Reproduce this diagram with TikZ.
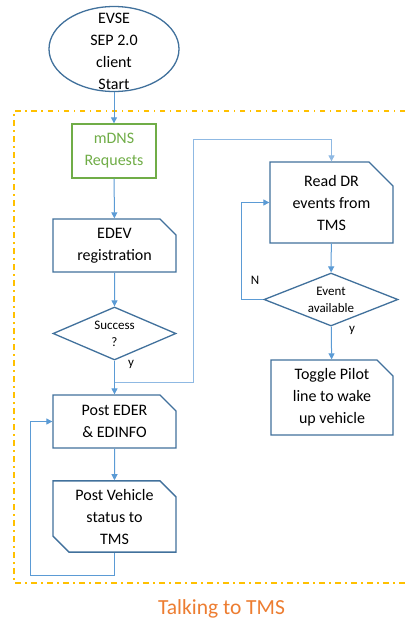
\documentclass[tikz,border=0pt]{standalone}
\usepackage{fontspec}
\setmainfont{Carlito}
\usetikzlibrary{shapes.geometric,shapes.misc,arrows.meta}
\definecolor{edge}{HTML}{41719C}
\definecolor{flow}{HTML}{5B9BD5}
\definecolor{flowlight}{HTML}{8FB9E3}
\definecolor{leaf}{HTML}{70AD47}
\definecolor{gold}{HTML}{FFC000}
\definecolor{tangerine}{HTML}{ED7D31}
\tikzset{
  body/.style={font=\fontsize{16}{22}\selectfont, align=center},
  small/.style={font=\fontsize{13}{17}\selectfont, align=center},
  snip/.style={body, chamfered rectangle, chamfered rectangle sep=8pt,
    draw=edge, line width=1.3pt, inner sep=0pt},
  decision/.style={small, diamond, draw=edge, line width=1.3pt, inner sep=0pt},
  link/.style={draw=flow, line width=1pt, -{Triangle[length=6pt,width=6pt]}},
  tag/.style={font=\fontsize{13}{15}\selectfont, inner sep=0pt}
}
\begin{document}
\begin{tikzpicture}[x=1pt,y=-1pt]
\fill[white] (0,0) rectangle (405,625);

% grouping frame around the TMS exchange (open towards the right edge)
\draw[gold, line width=1.4pt, dash pattern=on 5.5pt off 4.5pt on 1.5pt off 4.5pt]
  (405,111) -- (14,111) -- (14,583) -- (405,583);
\node[font=\fontsize{21.5}{24}\selectfont, text=tangerine] (title) at (221.5,609) {Talking to TMS};

% start terminal
\node[ellipse, draw=edge, line width=1.3pt, minimum width=130pt, minimum height=85pt, inner sep=0pt] (start) at (114,49) {};
\node[body] (starttext) at (114,51) {EVSE\\SEP 2.0\\client\\Start};

% left column
\node[rectangle, draw=leaf, line width=1.3pt, text=leaf, body, minimum width=84pt, minimum height=54pt, inner sep=0pt] (mdns) at (114,151) {mDNS\\Requests};
\node[snip, chamfered rectangle corners=north east, minimum width=123pt, minimum height=53pt] (edev) at (114.5,245.5) {EDEV\\registration};
\node[decision, minimum width=123pt, minimum height=53pt, shape aspect=2.3] (succ) at (114.5,333.5) {Success\\?};
\node[snip, chamfered rectangle corners=north east, minimum width=123pt, minimum height=53pt] (post) at (114.5,421.5) {Post EDER\\\& EDINFO};
\node[snip, chamfered rectangle corners={north east,south west}, minimum width=123pt, minimum height=67pt] (vehicle) at (114.5,516.5) {Post Vehicle\\status to\\TMS};

% right column
\node[snip, chamfered rectangle corners=north east, chamfered rectangle sep=12pt, minimum width=123pt, minimum height=81pt] (readdr) at (331.5,202.5) {Read DR\\events from\\TMS};
\node[decision, minimum width=134pt, minimum height=53pt, shape aspect=2.5] (event) at (331,299.5) {Event\\available};
\node[snip, chamfered rectangle corners=north east, minimum width=122pt, minimum height=75pt] (toggle) at (332,397.5) {Toggle Pilot\\line to wake\\up vehicle};

% connectors
\draw[link] (start) -- (mdns);
\draw[link] (mdns) -- (edev);
\draw[link] (edev) -- (succ);
\draw[link] (succ) -- (post);
\coordinate (split) at (114.5,382);
\coordinate (riser) at (193,139);
\draw[link, draw=flowlight] (split) -| (riser) -| (readdr.north);
\draw[link] (readdr) -- (event);
\draw[link] (event.west) -- ++(-22,0) |- (readdr.west);
\draw[link] (event) -- (toggle);
\draw[link] (post) -- (vehicle);
\draw[link] (vehicle.south) -- ++(0,23) -| ([xshift=-22pt]post.west) -- (post.west);

% branch labels
\node[tag] (yleft) at (131,364) {y};
\node[tag] (nright) at (255,280) {N};
\node[tag] (yright) at (352,330) {y};
\end{tikzpicture}
\end{document}
